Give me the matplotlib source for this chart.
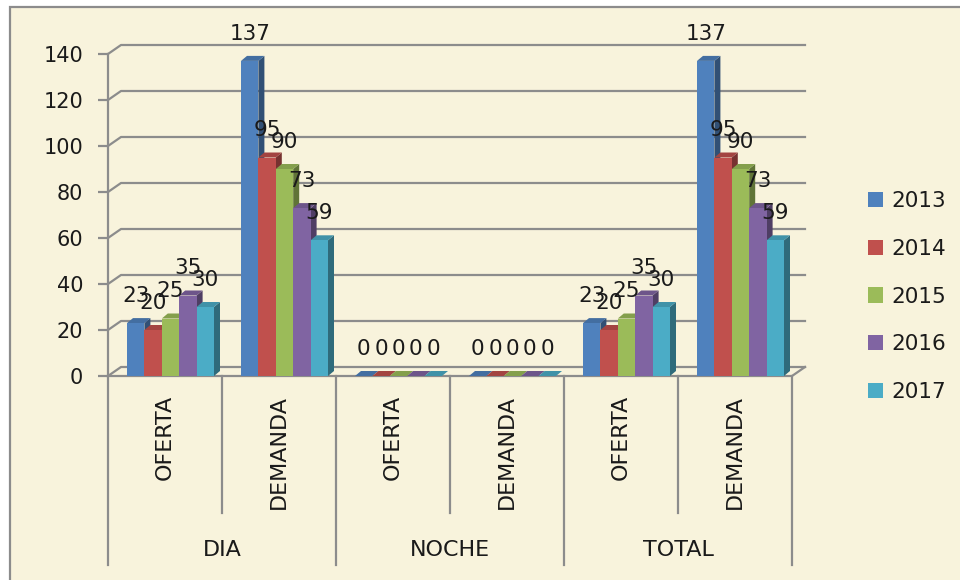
import matplotlib
matplotlib.use('Agg')
import matplotlib.pyplot as plt
from matplotlib.patches import Polygon, Rectangle, Patch
from matplotlib.colors import to_rgb
import numpy as np

# data
groups = ['DIA', 'NOCHE', 'TOTAL']
categories = ['OFERTA', 'DEMANDA', 'OFERTA', 'DEMANDA', 'OFERTA', 'DEMANDA']
years = ['2013', '2014', '2015', '2016', '2017']
v2013 = [23, 137, 0, 0, 23, 137]
v2014 = [20, 95, 0, 0, 20, 95]
v2015 = [25, 90, 0, 0, 25, 90]
v2016 = [35, 73, 0, 0, 35, 73]
v2017 = [30, 59, 0, 0, 30, 59]
series = [v2013, v2014, v2015, v2016, v2017]
yticks = [0, 20, 40, 60, 80, 100, 120, 140]

colors = ['#4F81BD', '#C0504D', '#9BBB59', '#8064A2', '#4BACC6']
bg = '#F8F3DC'
grid_c = '#8C8C8C'
txt_c = '#1A1A1A'

W, H, DPI = 960, 580, 100
fig = plt.figure(figsize=(W / DPI, H / DPI), dpi=DPI)
fig.patch.set_facecolor('white')
fig.add_artist(Rectangle((10 / W, -0.05), 1.0, (H - 7) / H + 0.05,
                         transform=fig.transFigure, facecolor=bg,
                         edgecolor=grid_c, lw=1.6, zorder=0))

# plot area: front floor at y=376px, 140 at y=54px, x from 108 to 792px
ax = fig.add_axes([108 / W, (H - 376) / H, (792 - 108) / W, (376 - 54) / H])
ax.set_facecolor('none')
n = len(categories)
ax.set_xlim(-0.5, n - 0.5)
ax.set_ylim(0, 140)

ux = n / 684.0      # data units per pixel, x
uy = 140 / 322.0    # data units per pixel, y
wdx, wdy = 13 * ux, 9 * uy      # back wall offset
bdx, bdy = 6 * ux, 5 * uy       # bar depth
bw = 17.4 * ux
shift = 5.5 * ux

# back wall gridlines + side wall diagonals
for v in yticks:
    ax.plot([-0.5, -0.5 + wdx, n - 0.5 + wdx], [v, v + wdy, v + wdy],
            color=grid_c, lw=1.6, clip_on=False, zorder=1)
# floor front edge
ax.plot([-0.5, n - 0.5, n - 0.5 + wdx], [0, 0, wdy],
        color=grid_c, lw=1.6, clip_on=False, zorder=1)

# 3d-looking bars
for c in range(n):
    for i, vals in enumerate(series):
        v = vals[c]
        rgb = np.array(to_rgb(colors[i]))
        xc = c + shift + (i - 2) * bw
        x0, x1 = xc - bw / 2, xc + bw / 2
        z = 3 + i * 0.1
        ax.add_patch(Polygon([(x1, 0), (x1 + bdx, bdy), (x1 + bdx, v + bdy), (x1, v)],
                             closed=True, facecolor=rgb * 0.62, lw=0, zorder=z, clip_on=False))
        ax.add_patch(Polygon([(x0, v), (x1, v), (x1 + bdx, v + bdy), (x0 + bdx, v + bdy)],
                             closed=True, facecolor=rgb * 0.85, lw=0, zorder=z, clip_on=False))
        ax.bar(xc, v, width=bw, color=colors[i], lw=0, zorder=z + 0.01, clip_on=False)
        ax.annotate(str(v), (xc, v), xytext=(0, 19.5), textcoords='offset points',
                    ha='center', va='center', fontsize=15.5, color=txt_c,
                    zorder=10, annotation_clip=False)

# axes styling
for s in ['top', 'right', 'bottom']:
    ax.spines[s].set_visible(False)
ax.spines['left'].set_color(grid_c)
ax.spines['left'].set_linewidth(1.6)
ax.set_yticks(yticks)
ax.tick_params(axis='y', length=7, width=1.6, color=grid_c, pad=11,
               labelsize=15, labelcolor=txt_c)
ax.set_xticks(range(n))
ax.set_xticklabels(categories, rotation=90, fontsize=16, color=txt_c)
ax.tick_params(axis='x', length=0, pad=13.5)

# category divider lines under the floor
xt = ax.get_xaxis_transform()
inner_end = (376 - 513) / 322.0
group_end = (376 - 565) / 322.0
for k in range(n + 1):
    bottom = group_end if k % 2 == 0 else inner_end
    ax.plot([k - 0.5, k - 0.5], [0, bottom], color=grid_c, lw=1.6,
            transform=xt, clip_on=False, zorder=1)
for g, name in enumerate(groups):
    ax.text(2 * g + 0.5, (376 - 550) / 322.0, name, transform=xt,
            ha='center', va='center', fontsize=16, color=txt_c)

handles = [Patch(facecolor=c, edgecolor='none') for c in colors]
ax.legend(handles, years, loc='upper left', bbox_to_anchor=(868 / W, (H - 191) / H),
          bbox_transform=fig.transFigure, frameon=False, fontsize=15.5,
          handlelength=0.7, handleheight=0.7, handletextpad=0.4,
          labelspacing=1.29, borderpad=0, borderaxespad=0, labelcolor=txt_c)

fig.savefig('out.png', dpi=DPI, facecolor=fig.get_facecolor())
